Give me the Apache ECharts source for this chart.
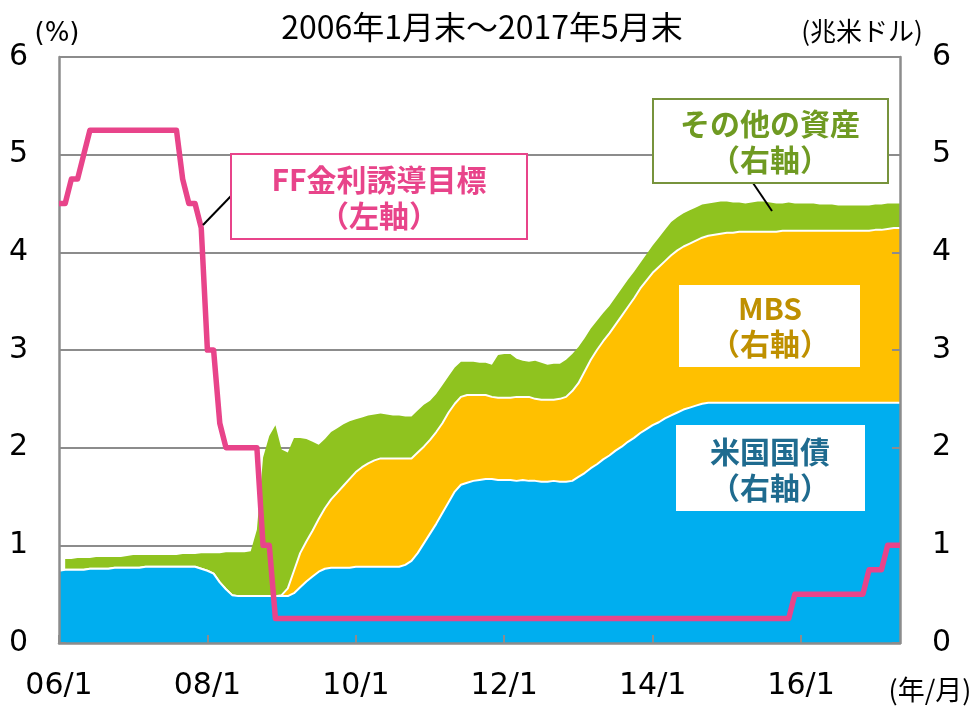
<!DOCTYPE html>
<html>
<head>
<meta charset="utf-8">
<title>FRB balance sheet and FF rate</title>
<script src="https://cdn.jsdelivr.net/npm/echarts@6/dist/echarts.min.js"></script>
<style>
  html, body { margin: 0; padding: 0; background: #fff; }
</style>
</head>
<body>
<div id="main" style="width:978px; height:707px;"></div>
<script type="text/javascript">
// 月次カテゴリ (2006/1 ～ 2017/5)
var months = [];
for (var y = 2006; y <= 2017; y++) {
    for (var m = 1; m <= 12; m++) {
        if (y === 2017 && m > 5) break;
        months.push(String(y).slice(2) + '/' + m);
    }
}
var tickLabels = ['06/1', '08/1', '10/1', '12/1', '14/1', '16/1'];

// FF金利誘導目標 (%) 月末
var ffRate = [
    4.5, 4.5, 4.75, 4.75, 5.0, 5.25, 5.25, 5.25, 5.25, 5.25, 5.25, 5.25,
    5.25, 5.25, 5.25, 5.25, 5.25, 5.25, 5.25, 5.25, 4.75, 4.5, 4.5, 4.25,
    3.0, 3.0, 2.25, 2.0, 2.0, 2.0, 2.0, 2.0, 2.0, 1.0, 1.0, 0.25,
    0.25, 0.25, 0.25, 0.25, 0.25, 0.25, 0.25, 0.25, 0.25, 0.25, 0.25, 0.25,
    0.25, 0.25, 0.25, 0.25, 0.25, 0.25, 0.25, 0.25, 0.25, 0.25, 0.25, 0.25,
    0.25, 0.25, 0.25, 0.25, 0.25, 0.25, 0.25, 0.25, 0.25, 0.25, 0.25, 0.25,
    0.25, 0.25, 0.25, 0.25, 0.25, 0.25, 0.25, 0.25, 0.25, 0.25, 0.25, 0.25,
    0.25, 0.25, 0.25, 0.25, 0.25, 0.25, 0.25, 0.25, 0.25, 0.25, 0.25, 0.25,
    0.25, 0.25, 0.25, 0.25, 0.25, 0.25, 0.25, 0.25, 0.25, 0.25, 0.25, 0.25,
    0.25, 0.25, 0.25, 0.25, 0.25, 0.25, 0.25, 0.25, 0.25, 0.25, 0.25, 0.5,
    0.5, 0.5, 0.5, 0.5, 0.5, 0.5, 0.5, 0.5, 0.5, 0.5, 0.5, 0.75,
    0.75, 0.75, 1.0, 1.0, 1.0
];

// 米国国債 (兆米ドル)
var treasury = [
    0.74, 0.75, 0.75, 0.75, 0.75, 0.76, 0.76, 0.76, 0.76, 0.77, 0.77, 0.77,
    0.77, 0.77, 0.78, 0.78, 0.78, 0.78, 0.78, 0.78, 0.78, 0.78, 0.78, 0.76,
    0.74, 0.71, 0.62, 0.55, 0.49, 0.48, 0.48, 0.48, 0.48, 0.48, 0.48, 0.48,
    0.48, 0.48, 0.51, 0.57, 0.63, 0.68, 0.73, 0.76, 0.77, 0.77, 0.77, 0.77,
    0.78, 0.78, 0.78, 0.78, 0.78, 0.78, 0.78, 0.78, 0.80, 0.84, 0.92, 1.02,
    1.12, 1.22, 1.33, 1.44, 1.55, 1.62, 1.64, 1.66, 1.67, 1.68, 1.68, 1.67,
    1.67, 1.67, 1.66, 1.67, 1.66, 1.66, 1.65, 1.65, 1.66, 1.65, 1.65, 1.66,
    1.70, 1.74, 1.79, 1.83, 1.88, 1.92, 1.97, 2.01, 2.06, 2.10, 2.15, 2.19,
    2.23, 2.26, 2.30, 2.33, 2.36, 2.39, 2.41, 2.43, 2.45, 2.46, 2.46, 2.46,
    2.46, 2.46, 2.46, 2.46, 2.46, 2.46, 2.46, 2.46, 2.46, 2.46, 2.46, 2.46,
    2.46, 2.46, 2.46, 2.46, 2.46, 2.46, 2.46, 2.46, 2.46, 2.46, 2.46, 2.46,
    2.46, 2.46, 2.46, 2.46, 2.46
];

// 米国国債 + MBS (積み上げ上端)
var treasuryMbs = [
    0.74, 0.75, 0.75, 0.75, 0.75, 0.76, 0.76, 0.76, 0.76, 0.77, 0.77, 0.77,
    0.77, 0.77, 0.78, 0.78, 0.78, 0.78, 0.78, 0.78, 0.78, 0.78, 0.78, 0.76,
    0.74, 0.71, 0.62, 0.55, 0.49, 0.48, 0.48, 0.48, 0.48, 0.48, 0.48, 0.48,
    0.49, 0.56, 0.74, 0.92, 1.04, 1.15, 1.27, 1.38, 1.47, 1.54, 1.61, 1.68,
    1.75, 1.80, 1.84, 1.87, 1.89, 1.89, 1.89, 1.89, 1.89, 1.89, 1.95, 2.01,
    2.08, 2.16, 2.25, 2.36, 2.45, 2.52, 2.54, 2.54, 2.54, 2.54, 2.52, 2.51,
    2.51, 2.51, 2.52, 2.52, 2.52, 2.50, 2.49, 2.49, 2.49, 2.50, 2.52, 2.58,
    2.66, 2.78, 2.90, 3.00, 3.09, 3.17, 3.26, 3.35, 3.44, 3.53, 3.63, 3.71,
    3.79, 3.85, 3.91, 3.97, 4.02, 4.06, 4.09, 4.12, 4.15, 4.17, 4.18, 4.19,
    4.20, 4.20, 4.21, 4.21, 4.21, 4.21, 4.21, 4.21, 4.21, 4.22, 4.22, 4.22,
    4.22, 4.22, 4.22, 4.22, 4.22, 4.22, 4.22, 4.22, 4.22, 4.22, 4.22, 4.22,
    4.23, 4.23, 4.24, 4.25, 4.25
];

// 総資産 (その他の資産を含む上端)
var totalAssets = [
    null, 0.86, 0.86, 0.87, 0.87, 0.87, 0.88, 0.88, 0.88, 0.88, 0.88, 0.89,
    0.90, 0.90, 0.90, 0.90, 0.90, 0.90, 0.90, 0.90, 0.91, 0.91, 0.91, 0.92,
    0.92, 0.92, 0.92, 0.93, 0.93, 0.93, 0.93, 0.94, 1.16, 1.90, 2.12, 2.23,
    1.98, 1.95, 2.10, 2.10, 2.09, 2.06, 2.03, 2.09, 2.16, 2.20, 2.24, 2.27,
    2.29, 2.31, 2.33, 2.34, 2.35, 2.34, 2.33, 2.33, 2.32, 2.32, 2.38, 2.44,
    2.48, 2.55, 2.64, 2.73, 2.82, 2.88, 2.88, 2.88, 2.87, 2.87, 2.85, 2.95,
    2.96, 2.96, 2.91, 2.89, 2.88, 2.89, 2.87, 2.85, 2.86, 2.86, 2.90, 2.96,
    3.03, 3.12, 3.22, 3.30, 3.38, 3.45, 3.54, 3.63, 3.72, 3.80, 3.89, 3.98,
    4.07, 4.15, 4.23, 4.31, 4.36, 4.40, 4.43, 4.46, 4.49, 4.50, 4.51, 4.52,
    4.52, 4.51, 4.51, 4.50, 4.51, 4.52, 4.52, 4.51, 4.50, 4.50, 4.51, 4.50,
    4.50, 4.50, 4.50, 4.49, 4.49, 4.49, 4.48, 4.48, 4.48, 4.48, 4.48, 4.48,
    4.49, 4.49, 4.50, 4.50, 4.50
];

var GRAY = '#8c8c8c';
var LABEL_FONT = 'DejaVu Sans';
var JP_FONT = '"Noto Sans CJK JP", "DejaVu Sans", sans-serif';
var PINK = '#e8448a';

var myChart = echarts.init(document.getElementById('main'));

function showTick(index, value) {
    return tickLabels.indexOf(value) >= 0;
}

function boxText(x, y, text, color) {
    return {
        type: 'text', x: x, y: y, z: 101,
        style: {
            text: text, fill: color, align: 'center', verticalAlign: 'middle',
            font: 'bold 30px ' + JP_FONT
        }
    };
}

var option = {
    animation: false,
    backgroundColor: '#fff',
    grid: { left: 59, right: 78, top: 57, bottom: 64 },
    xAxis: {
        type: 'category',
        data: months,
        boundaryGap: false,
        z: 10,
        axisLine: { lineStyle: { color: GRAY, width: 2.5 } },
        axisTick: { inside: true, length: 8, interval: showTick, lineStyle: { color: GRAY, width: 2 } },
        axisLabel: { interval: showTick, margin: 28, color: '#000', fontSize: 30, fontFamily: LABEL_FONT }
    },
    yAxis: [
        {
            type: 'value', position: 'left', min: 0, max: 6, interval: 1, z: 10,
            axisLine: { show: true, lineStyle: { color: GRAY, width: 2.5 } },
            axisTick: { show: true, inside: true, length: 7, lineStyle: { color: GRAY, width: 2 } },
            axisLabel: { margin: 31, color: '#000', fontSize: 30, fontFamily: LABEL_FONT },
            splitLine: { show: false }
        },
        {
            type: 'value', position: 'right', min: 0, max: 6, interval: 1, z: 10,
            axisLine: { show: true, lineStyle: { color: GRAY, width: 2.5 } },
            axisTick: { show: true, inside: true, length: 8, lineStyle: { color: GRAY, width: 2 } },
            axisLabel: { margin: 32, color: '#000', fontSize: 30, fontFamily: LABEL_FONT },
            splitLine: { show: false }
        },
        {
            // 目盛線のみ (系列の下に描く)
            type: 'value', position: 'left', min: 0, max: 6, interval: 1, z: 0,
            axisLine: { show: false }, axisTick: { show: false }, axisLabel: { show: false },
            splitLine: { show: true, lineStyle: { color: GRAY, width: 2 } }
        }
    ],
    series: [
        {
            name: 'その他の資産',
            type: 'line', yAxisIndex: 1, z: 2,
            data: totalAssets,
            symbol: 'none',
            lineStyle: { width: 0 },
            areaStyle: { color: '#8fc31f', opacity: 1 }
        },
        {
            name: 'MBS',
            type: 'line', yAxisIndex: 1, z: 3,
            data: treasuryMbs,
            symbol: 'none',
            lineStyle: { color: '#fff', width: 2 },
            areaStyle: { color: '#ffc000', opacity: 1 }
        },
        {
            name: '米国国債',
            type: 'line', yAxisIndex: 1, z: 4,
            data: treasury,
            symbol: 'none',
            lineStyle: { color: '#fff', width: 2 },
            areaStyle: { color: '#00aeef', opacity: 1 }
        },
        {
            name: 'FF金利誘導目標',
            type: 'line', yAxisIndex: 0, z: 20,
            data: ffRate,
            symbol: 'none',
            lineStyle: { color: PINK, width: 5.5, join: 'round' }
        }
    ],
    graphic: [
        { type: 'text', x: 482, y: 27, style: { text: '2006年1月末～2017年5月末', fill: '#000', align: 'center', verticalAlign: 'middle', font: '32px ' + JP_FONT } },
        { type: 'text', x: 57, y: 34, style: { text: '(%)', fill: '#000', align: 'center', verticalAlign: 'middle', font: '26px ' + LABEL_FONT } },
        { type: 'text', x: 862, y: 31, style: { text: '(兆米ドル)', fill: '#000', align: 'center', verticalAlign: 'middle', font: '26px ' + JP_FONT } },
        { type: 'text', x: 930, y: 690, style: { text: '(年/月)', fill: '#000', align: 'center', verticalAlign: 'middle', font: '27px ' + JP_FONT } },

        // FF金利 注記
        { type: 'line', z: 100, shape: { x1: 203, y1: 225, x2: 231, y2: 196 }, style: { stroke: '#000', lineWidth: 2 } },
        { type: 'rect', z: 100, shape: { x: 231, y: 154, width: 296, height: 85 }, style: { fill: '#fff', stroke: PINK, lineWidth: 2 } },
        boxText(379, 180, 'FF金利誘導目標', PINK),
        boxText(379, 216, '（左軸）', PINK),

        // その他の資産 注記
        { type: 'line', z: 100, shape: { x1: 753, y1: 183, x2: 772, y2: 211 }, style: { stroke: '#000', lineWidth: 2 } },
        { type: 'rect', z: 100, shape: { x: 653, y: 99, width: 235, height: 84 }, style: { fill: '#fff', stroke: '#77933c', lineWidth: 2 } },
        boxText(770, 124, 'その他の資産', '#6f9a22'),
        boxText(770, 160, '（右軸）', '#6f9a22'),

        // MBS 注記
        { type: 'rect', z: 100, shape: { x: 679, y: 285, width: 181, height: 82 }, style: { fill: '#fff' } },
        boxText(770, 309, 'MBS', '#bf9000'),
        boxText(770, 344, '（右軸）', '#bf9000'),

        // 米国国債 注記
        { type: 'rect', z: 100, shape: { x: 676, y: 425, width: 189, height: 86 }, style: { fill: '#fff' } },
        boxText(770, 452, '米国国債', '#1f6b8f'),
        boxText(770, 488, '（右軸）', '#1f6b8f')
    ]
};

myChart.setOption(option);
</script>
</body>
</html>
